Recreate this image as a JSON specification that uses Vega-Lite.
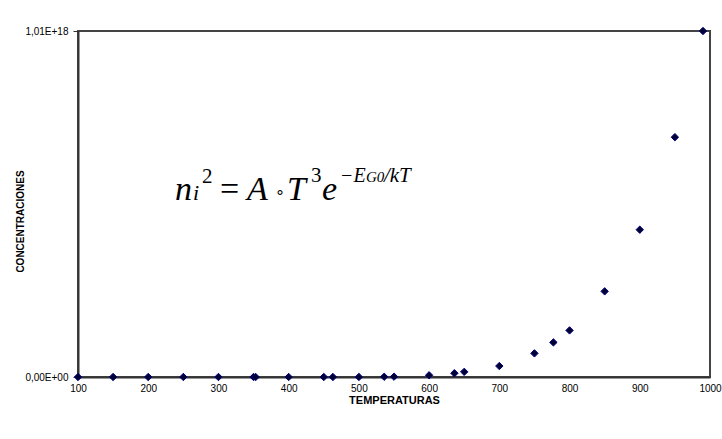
{
  "$schema": "https://vega.github.io/schema/vega-lite/v6.json",
  "autosize": {"type": "none"},
  "padding": {"left": 78, "top": 31, "right": 12, "bottom": 62},
  "width": 632,
  "height": 346,
  "background": "#ffffff",
  "config": {
    "view": {"stroke": "#444444", "strokeWidth": 2},
    "axis": {"grid": false, "labelFont": "Liberation Sans", "titleFont": "Liberation Sans", "labelColor": "#000000", "titleColor": "#000000", "domainColor": "#333333", "domainWidth": 2, "tickColor": "#333333"},
    "text": {"font": "Times New Roman"}
  },
  "datasets": {
    "pts": [
      {"T": 100, "n2": 0},
      {"T": 150, "n2": 0},
      {"T": 200, "n2": 0},
      {"T": 250, "n2": 0},
      {"T": 300, "n2": 0},
      {"T": 350, "n2": 0},
      {"T": 353, "n2": 0},
      {"T": 400, "n2": 10000000000},
      {"T": 450, "n2": 1000000000000},
      {"T": 463, "n2": 3000000000000},
      {"T": 500, "n2": 100000000000000},
      {"T": 536, "n2": 700000000000000},
      {"T": 550, "n2": 1000000000000000},
      {"T": 600, "n2": 5000000000000000},
      {"T": 636, "n2": 11000000000000000},
      {"T": 650, "n2": 15000000000000000},
      {"T": 700, "n2": 32000000000000000},
      {"T": 750, "n2": 69000000000000000},
      {"T": 777, "n2": 101000000000000000},
      {"T": 800, "n2": 136000000000000000},
      {"T": 850, "n2": 250000000000000000},
      {"T": 900, "n2": 430000000000000000},
      {"T": 950, "n2": 700000000000000000},
      {"T": 990, "n2": 1010000000000000000}
    ],
    "formula": [
      {"t": "n", "dx": 0, "dy": 0, "fs": 34, "st": "italic"},
      {"t": "i", "dx": 18, "dy": 0, "fs": 22, "st": "italic"},
      {"t": "2", "dx": 27, "dy": -17, "fs": 21, "st": "normal"},
      {"t": "=", "dx": 45, "dy": 0, "fs": 34, "st": "normal"},
      {"t": "A", "dx": 72, "dy": 0, "fs": 34, "st": "italic"},
      {"t": "∘", "dx": 100, "dy": -2, "fs": 16, "st": "normal"},
      {"t": "T", "dx": 112, "dy": 0, "fs": 34, "st": "italic"},
      {"t": "3", "dx": 136, "dy": -18, "fs": 21, "st": "normal"},
      {"t": "e", "dx": 147, "dy": 0, "fs": 34, "st": "italic"},
      {"t": "−E", "dx": 165, "dy": -18, "fs": 20, "st": "italic"},
      {"t": "G0", "dx": 191, "dy": -18, "fs": 15, "st": "italic"},
      {"t": "/kT", "dx": 209, "dy": -18, "fs": 21, "st": "italic"}
    ]
  },
  "layer": [
    {
      "data": {"name": "pts"},
      "mark": {"type": "point", "shape": "diamond", "filled": true, "size": 55, "fill": "#000033", "stroke": "#000080", "strokeWidth": 1, "opacity": 1},
      "encoding": {
        "x": {"field": "T", "type": "quantitative", "scale": {"domain": [100, 1000], "nice": false, "zero": false},
          "axis": {"values": [100, 200, 300, 400, 500, 600, 700, 800, 900, 1000], "format": "d", "labelFlush": false, "ticks": false, "labelPadding": 6, "labelFontSize": 10, "title": "TEMPERATURAS", "titleFontSize": 11, "titleFontWeight": "bold", "titlePadding": 1}},
        "y": {"field": "n2", "type": "quantitative", "scale": {"domain": [0, 1010000000000000000], "nice": false},
          "axis": {"values": [0, 1010000000000000000], "labelExpr": "datum.value == 0 ? '0,00E+00' : '1,01E+18'", "labelFlush": false, "tickSize": 5, "labelPadding": 5, "labelFontSize": 10, "title": "CONCENTRACIONES", "titleFontSize": 10, "titleFontWeight": "bold", "titleX": -58, "titleY": 190, "titleAngle": -90, "titleAlign": "center", "titleBaseline": "middle"}}
      }
    },
    {
      "data": {"name": "formula"},
      "transform": [{"filter": "datum.st == 'italic'"}],
      "mark": {"type": "text", "font": "Times New Roman", "fontStyle": "italic", "align": "left", "baseline": "alphabetic", "color": "#000000"},
      "encoding": {
        "x": {"datum": 238},
        "y": {"datum": 517000000000000000},
        "text": {"field": "t"},
        "xOffset": {"field": "dx", "type": "quantitative", "scale": null},
        "yOffset": {"field": "dy", "type": "quantitative", "scale": null},
        "size": {"field": "fs", "type": "quantitative", "scale": null, "legend": null}
      }
    },
    {
      "data": {"name": "formula"},
      "transform": [{"filter": "datum.st == 'normal'"}],
      "mark": {"type": "text", "font": "Times New Roman", "fontStyle": "normal", "align": "left", "baseline": "alphabetic", "color": "#000000"},
      "encoding": {
        "x": {"datum": 238},
        "y": {"datum": 517000000000000000},
        "text": {"field": "t"},
        "xOffset": {"field": "dx", "type": "quantitative", "scale": null},
        "yOffset": {"field": "dy", "type": "quantitative", "scale": null},
        "size": {"field": "fs", "type": "quantitative", "scale": null, "legend": null}
      }
    }
  ]
}
